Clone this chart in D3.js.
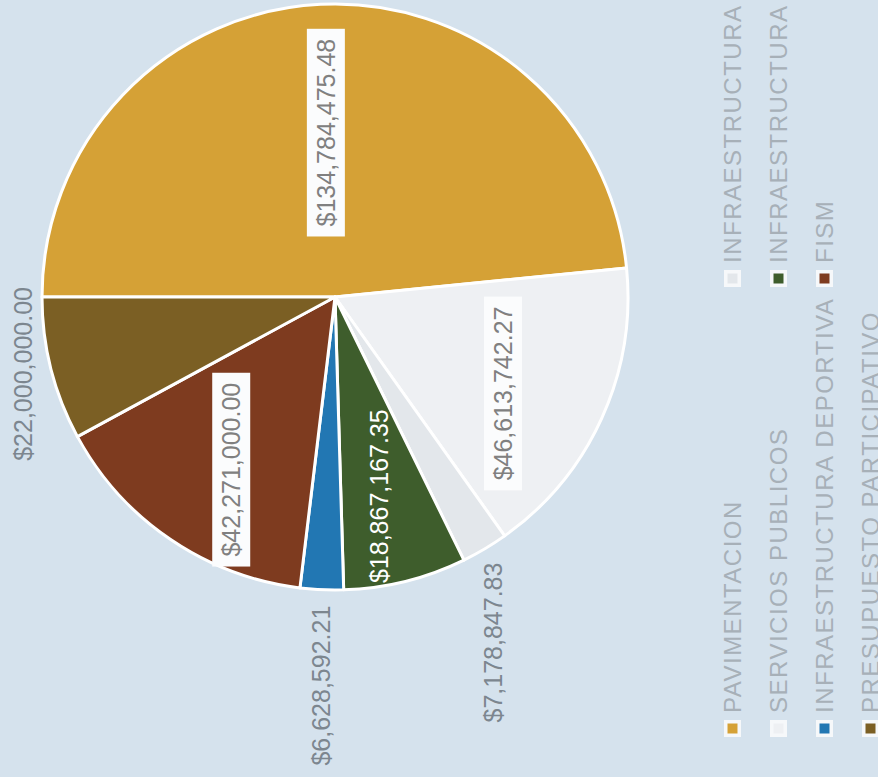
<!DOCTYPE html>
<html>
<head>
<meta charset="utf-8">
<script src="https://cdn.jsdelivr.net/npm/d3@7"></script>
<style>
  body { margin: 0; background: #d5e2ed; }
  svg { display: block; }
</style>
</head>
<body>
<script>
// slices, in drawing order (clockwise from the top of the unrotated chart)
var categories = ['PAVIMENTACION', 'SERVICIOS PUBLICOS', 'INFRAESTRUCTURA', 'INFRAESTRUCTURA',
                  'INFRAESTRUCTURA DEPORTIVA', 'FISM', 'PRESUPUESTO PARTICIPATIVO'];
var amounts = [134784475.48, 46613742.27, 7178847.83, 18867167.35, 6628592.21, 42271000.00, 22000000.00];
var colors = ['#d5a136', '#eef0f3', '#e3e7eb', '#3e5d2c', '#2277b3', '#7e3b1f', '#7b5f24'];
// legend reads down the first column, then the second
var legendOrder = [0, 1, 4, 6, 2, 3, 5];

var svgWidth = 878;
var svgHeight = 777;

var svg = d3.select('body')
  .append('svg')
    .attr('width', svgWidth)
    .attr('height', svgHeight);

// the scan is turned a quarter turn, so draw the chart upright and rotate it
var chart = svg.append('g')
    .attr('transform', 'translate(0,' + svgHeight + ') rotate(-90)');

var cx = 480, cy = 335, radius = 293;

var pie = d3.pie().sort(null).value(function(d) { return d; });
var arcs = pie(amounts);

var arc = d3.arc().innerRadius(0).outerRadius(radius);
var labelArc = d3.arc().innerRadius(radius * 0.63).outerRadius(radius * 0.63);

var fmt = d3.format('$,.2f');

var pieG = chart.append('g')
    .attr('transform', 'translate(' + cx + ',' + cy + ')');

pieG.selectAll('path')
  .data(arcs)
  .enter()
  .append('path')
    .attr('d', arc)
    .attr('fill', function(d, i) { return colors[i]; })
    .attr('stroke', '#ffffff')
    .attr('stroke-width', 3)
    .attr('stroke-linejoin', 'round');

// how each value label is shown
var labelMode = ['box', 'box', 'outside', 'plain', 'outside', 'box', 'outside'];

var labels = pieG.selectAll('g.label')
  .data(arcs)
  .enter()
  .append('g')
    .attr('class', 'label');

labels.each(function(d, i) {
  var g = d3.select(this);
  var mode = labelMode[i];
  var text = g.append('text')
      .text(fmt(d.data))
      .style('font-family', '"Liberation Sans", Arial, sans-serif')
      .style('font-size', '25px');

  if (mode === 'outside') {
    var mid = (d.startAngle + d.endAngle) / 2;
    var sx = Math.sin(mid), sy = -Math.cos(mid);
    var px = sx * (radius + 16), py = sy * (radius + 16);
    var anchor = 'middle', dy = '0.35em';
    if (Math.abs(sx) > 0.6) {
      anchor = sx < 0 ? 'end' : 'start';
    } else if (sy < 0) {
      px = sx * (radius + 20);
      py = sy * (radius + 20);
      dy = '0em';
    } else {
      dy = '0.9em';
    }
    text.attr('x', px).attr('y', py)
        .attr('dy', dy)
        .attr('text-anchor', anchor)
        .attr('fill', '#7c868f');
  } else {
    var c = labelArc.centroid(d);
    var tx = c[0] - 20, ty = c[1];
    text.attr('x', tx).attr('y', ty)
        .attr('dy', '0.35em')
        .attr('text-anchor', 'middle')
        .attr('fill', mode === 'plain' ? '#ffffff' : '#808080');
    if (mode === 'box') {
      var w = text.node().getComputedTextLength();
      g.insert('rect', 'text')
          .attr('x', tx - w / 2 - 10)
          .attr('y', ty - 19)
          .attr('width', w + 20)
          .attr('height', 38)
          .attr('fill', '#fbfcfd');
    }
  }
});

// legend
var rowStep = 46;
var legendTop = 732;
var columnX = [40, 490];

var legend = chart.selectAll('g.legend')
  .data(legendOrder)
  .enter()
  .append('g')
    .attr('class', 'legend')
    .attr('transform', function(k, j) {
      var col = Math.floor(j / 4), row = j % 4;
      return 'translate(' + columnX[col] + ',' + (legendTop + row * rowStep) + ')';
    });

legend.append('rect')
    .attr('x', 0)
    .attr('y', -8)
    .attr('width', 17)
    .attr('height', 17)
    .attr('fill', '#f6f8fa');

legend.append('rect')
    .attr('x', 3.5)
    .attr('y', -4.5)
    .attr('width', 10)
    .attr('height', 10)
    .attr('fill', function(k) { return colors[k]; });

legend.append('text')
    .attr('x', 24)
    .attr('y', 0)
    .attr('dy', '0.36em')
    .text(function(k) { return categories[k]; })
    .style('font-family', '"Liberation Sans", Arial, sans-serif')
    .style('font-size', '24px')
    .style('letter-spacing', '1.5px')
    .attr('fill', '#a7b0b8');
</script>
</body>
</html>
